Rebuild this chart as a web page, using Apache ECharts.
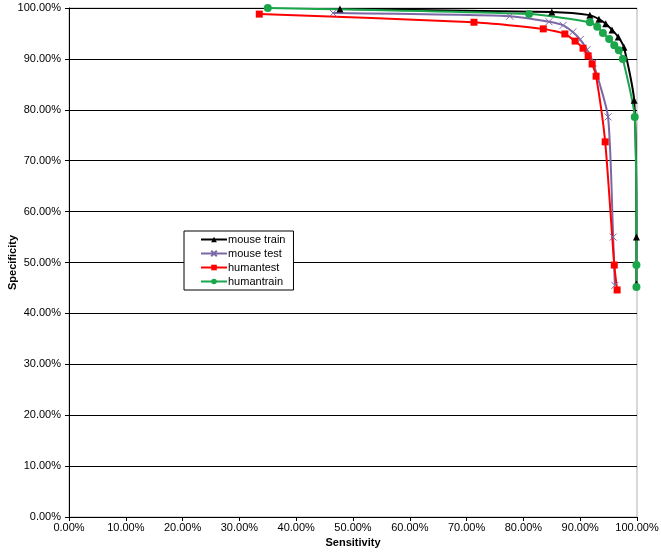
<!DOCTYPE html>
<html>
<head>
<meta charset="utf-8">
<script src="https://cdn.jsdelivr.net/npm/echarts@6/dist/echarts.min.js"></script>
<style>
  html, body { margin: 0; padding: 0; background: #fff; }
  #chart { width: 661px; height: 556px; }
</style>
</head>
<body>
<div id="chart"></div>
<script>
// sensitivity (x) / specificity (y), in percent
const mouseTrainX = [47.7, 85.0, 91.7, 93.3, 94.5, 95.6, 96.7, 97.7, 99.5, 99.9, 99.9];
const mouseTrainY = [99.8, 99.2, 98.6, 97.8, 96.9, 95.7, 94.3, 92.3, 81.9, 55.0, 45.8];

const mouseTestX = [46.5, 77.6, 84.5, 87.0, 88.7, 90.0, 91.2, 92.3, 94.9, 95.8, 96.1];
const mouseTestY = [99.0, 98.4, 97.3, 96.6, 95.3, 93.8, 91.8, 89.2, 78.6, 55.0, 45.5];

const humanTestX = [33.5, 71.3, 83.5, 87.3, 89.1, 90.5, 91.4, 92.1, 92.8, 94.4, 96.0, 96.5];
const humanTestY = [98.8, 97.2, 95.9, 94.9, 93.5, 92.1, 90.6, 89.0, 86.6, 73.7, 49.5, 44.6];

const humanTrainX = [35.0, 81.0, 91.7, 93.0, 94.0, 95.1, 96.0, 96.8, 97.5, 99.6, 99.9, 99.9];
const humanTrainY = [100.0, 98.8, 97.2, 96.3, 95.1, 93.9, 92.7, 91.7, 90.0, 78.6, 49.5, 45.2];

const seriesNames = ["mouse train", "mouse test", "humantest", "humantrain"];

const pairs = (xs, ys) => xs.map((x, i) => [x, ys[i]]);
const pct = (v) => v.toFixed(2) + "%";

const crossPath = "path://M0,0L10,10M10,0L0,10";

const chart = echarts.init(document.getElementById("chart"));

const font = "Liberation Sans, Arial, sans-serif";

const makeSeries = (name, data, color, symbol, size) => ({
  name: name,
  type: "line",
  data: data,
  smooth: 0.2,
  symbol: symbol,
  symbolSize: size,
  showSymbol: true,
  lineStyle: { color: color, width: 2 },
  itemStyle: symbol === crossPath
    ? { color: "transparent", borderColor: color, borderWidth: 1 }
    : { color: color, borderWidth: 0 },
  emphasis: { disabled: true },
  z: 3
});

chart.setOption({
  animation: false,
  backgroundColor: "#fff",
  textStyle: { fontFamily: font },
  grid: {
    left: 69, right: 24, top: 8, bottom: 39,
    outerBoundsMode: "none",
    containLabel: false,
    show: true, borderColor: "#b0b0b0", borderWidth: 1
  },
  legend: {
    orient: "vertical",
    left: 184, top: 231,
    width: 105,
    data: [
      { name: seriesNames[0] },
      { name: seriesNames[1] },
      { name: seriesNames[2] },
      { name: seriesNames[3] }
    ],
    itemWidth: 26, itemHeight: 7, itemGap: 3,
    padding: [3, 8, 3, 16],
    borderColor: "#000", borderWidth: 1,
    backgroundColor: "#fff",
    textStyle: { fontSize: 11, color: "#000", fontFamily: font, padding: [0, 0, 0, -4] }
  },
  xAxis: {
    type: "value",
    min: 0, max: 100, interval: 10,
    name: "Sensitivity",
    nameLocation: "middle",
    nameGap: 20,
    nameMoveOverlap: false,
    nameTextStyle: { fontWeight: "bold", fontSize: 11, color: "#000" },
    axisLine: { show: true, lineStyle: { color: "#000", width: 1 } },
    axisTick: { show: true, length: 4, lineStyle: { color: "#000" } },
    axisLabel: { formatter: pct, fontSize: 11, color: "#000", margin: 5 },
    splitLine: { show: false }
  },
  yAxis: {
    type: "value",
    min: 0, max: 100, interval: 10,
    name: "Specificity",
    nameLocation: "middle",
    nameGap: 51,
    nameMoveOverlap: false,
    nameTextStyle: { fontWeight: "bold", fontSize: 11, color: "#000" },
    axisLine: { show: true, lineStyle: { color: "#000", width: 1 } },
    axisTick: { show: true, length: 4, lineStyle: { color: "#000" } },
    axisLabel: { formatter: pct, fontSize: 11, color: "#000", margin: 8 },
    splitLine: { show: true, lineStyle: { color: "#000", width: 1 } }
  },
  series: [
    makeSeries(seriesNames[0], pairs(mouseTrainX, mouseTrainY), "#000000", "triangle", 7),
    makeSeries(seriesNames[1], pairs(mouseTestX, mouseTestY), "#7b68a6", crossPath, 7),
    makeSeries(seriesNames[2], pairs(humanTestX, humanTestY), "#ff0000", "rect", 7),
    makeSeries(seriesNames[3], pairs(humanTrainX, humanTrainY), "#1aa64a", "circle", 8)
  ]
});
</script>
</body>
</html>
